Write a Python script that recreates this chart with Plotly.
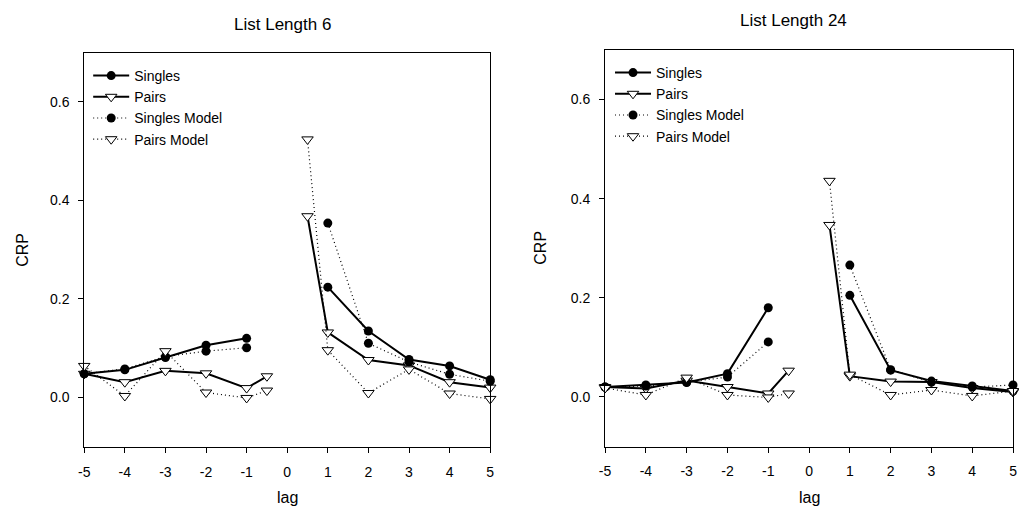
import plotly.graph_objects as go

W, H = 1019, 512

# ---- data ----
lag_singles = [-5, -4, -3, -2, -1, None, 1, 2, 3, 4, 5]
lag_pairs = [-5, -4, -3, -2, -1, -0.5, None, 0.5, 1, 2, 3, 4, 5]

ll6_singles = [0.048, 0.056, 0.081, 0.106, 0.120, None, 0.224, 0.135, 0.077, 0.064, 0.036]
ll6_singles_model = [0.048, 0.058, 0.083, 0.094, 0.101, None, 0.354, 0.110, 0.072, 0.047, 0.033]
ll6_pairs = [0.048, 0.031, 0.054, 0.049, 0.019, 0.043, None, 0.368, 0.132, 0.076, 0.065, 0.031, 0.020]
ll6_pairs_model = [0.064, 0.003, 0.094, 0.010, -0.001, 0.014, None, 0.524, 0.096, 0.009, 0.057, 0.008, -0.003]

ll24_singles = [0.020, 0.024, 0.029, 0.047, 0.180, None, 0.205, 0.054, 0.032, 0.022, 0.012]
ll24_singles_model = [0.020, 0.022, 0.030, 0.040, 0.111, None, 0.266, 0.055, 0.030, 0.020, 0.024]
ll24_pairs = [0.020, 0.017, 0.033, 0.020, 0.007, 0.053, None, 0.347, 0.042, 0.031, 0.030, 0.018, 0.010]
ll24_pairs_model = [0.018, 0.004, 0.039, 0.004, -0.001, 0.007, None, 0.436, 0.045, 0.004, 0.014, 0.002, 0.012]

panel_titles = ["List Length 6", "List Length 24"]
series_names = ["Singles", "Pairs", "Singles Model", "Pairs Model"]
x_tickvals = [-5, -4, -3, -2, -1, 0, 1, 2, 3, 4, 5]
x_ticktext = ["-5", "-4", "-3", "-2", "-1", "0", "1", "2", "3", "4", "5"]
y_tickvals = [0.0, 0.2, 0.4, 0.6]
y_ticktext = ["0.0", "0.2", "0.4", "0.6"]

FONT = "Liberation Sans, Arial, sans-serif"
DOT = "1px,3px"


def px_x(p):
    return p / W


def px_y(p):
    return 1 - p / H


fig = go.Figure()

panels = [
    dict(xa="x", ya="y", legend="legend",
         data=[ll6_singles, ll6_pairs, ll6_singles_model, ll6_pairs_model]),
    dict(xa="x2", ya="y2", legend="legend2",
         data=[ll24_singles, ll24_pairs, ll24_singles_model, ll24_pairs_model]),
]

for p in panels:
    s, pr, sm, pm = p["data"]
    common = dict(xaxis=p["xa"], yaxis=p["ya"], legend=p["legend"],
                  connectgaps=False, cliponaxis=False)
    fig.add_trace(go.Scatter(x=lag_singles, y=s, name=series_names[0], mode="lines+markers",
                             line=dict(color="black", width=2),
                             marker=dict(symbol="circle", size=9, color="black"), **common))
    fig.add_trace(go.Scatter(x=lag_pairs, y=pr, name=series_names[1], mode="lines+markers",
                             line=dict(color="black", width=2),
                             marker=dict(symbol="triangle-down", size=10, color="white",
                                         line=dict(color="black", width=1)), **common))
    fig.add_trace(go.Scatter(x=lag_singles, y=sm, name=series_names[2], mode="lines+markers",
                             line=dict(color="black", width=1.2, dash=DOT),
                             marker=dict(symbol="circle", size=9, color="black"), **common))
    fig.add_trace(go.Scatter(x=lag_pairs, y=pm, name=series_names[3], mode="lines+markers",
                             line=dict(color="black", width=1.2, dash=DOT),
                             marker=dict(symbol="triangle-down", size=10, color="white",
                                         line=dict(color="black", width=1)), **common))

axis_common = dict(showline=True, linecolor="black", linewidth=1, mirror=True,
                   ticks="outside", ticklen=5, tickcolor="black", tickwidth=1,
                   showgrid=False, zeroline=False,
                   tickfont=dict(family=FONT, size=14, color="black"))

xcommon = dict(axis_common, range=[-5, 5], tickvals=x_tickvals, ticktext=x_ticktext,
               ticklabelstandoff=7)
ycommon = dict(axis_common, range=[-0.1, 0.7], tickvals=y_tickvals, ticktext=y_ticktext,
               ticklabelstandoff=6)

L = (79, 489, 52.7, 446.7)
R = (605, 1017, 50, 446.5)

legend_common = dict(xanchor="left", yanchor="top",
                     font=dict(family=FONT, size=14, color="black"),
                     bgcolor="rgba(0,0,0,0)", tracegroupgap=0, itemwidth=36)

fig.update_layout(
    width=W, height=H,
    margin=dict(l=0, r=0, t=0, b=0),
    paper_bgcolor="white", plot_bgcolor="white",
    font=dict(family=FONT, color="black"),
    xaxis=dict(xcommon, domain=[px_x(L[0]), px_x(L[1])], anchor="y"),
    yaxis=dict(ycommon, domain=[px_y(L[3]), px_y(L[2])], anchor="x"),
    xaxis2=dict(xcommon, domain=[px_x(R[0]), px_x(R[1])], anchor="y2"),
    yaxis2=dict(ycommon, domain=[px_y(R[3]), px_y(R[2])], anchor="x2"),
    legend=dict(legend_common, x=px_x(83), y=px_y(60)),
    legend2=dict(legend_common, x=px_x(610), y=px_y(57)),
    showlegend=True,
)

ann_font = dict(family=FONT, size=16, color="black")
title_font = dict(family=FONT, size=17, color="black")
annotations = [
    dict(text=panel_titles[0], x=px_x(279), y=px_y(24), font=title_font),
    dict(text=panel_titles[1], x=px_x(795), y=px_y(20), font=title_font),
    dict(text="CRP", x=px_x(16), y=px_y(250), textangle=-90, font=ann_font),
    dict(text="CRP", x=px_x(539), y=px_y(248), textangle=-90, font=ann_font),
    dict(text="lag", x=px_x(284), y=px_y(497), font=ann_font),
    dict(text="lag", x=px_x(811), y=px_y(497), font=ann_font),
]
for a in annotations:
    a.update(xref="paper", yref="paper", xanchor="center", yanchor="middle", showarrow=False)
fig.update_layout(annotations=annotations)

fig.write_html("out.html", config={"displayModeBar": False},
               post_script="document.body.style.margin='0';document.body.style.overflow='hidden';")
